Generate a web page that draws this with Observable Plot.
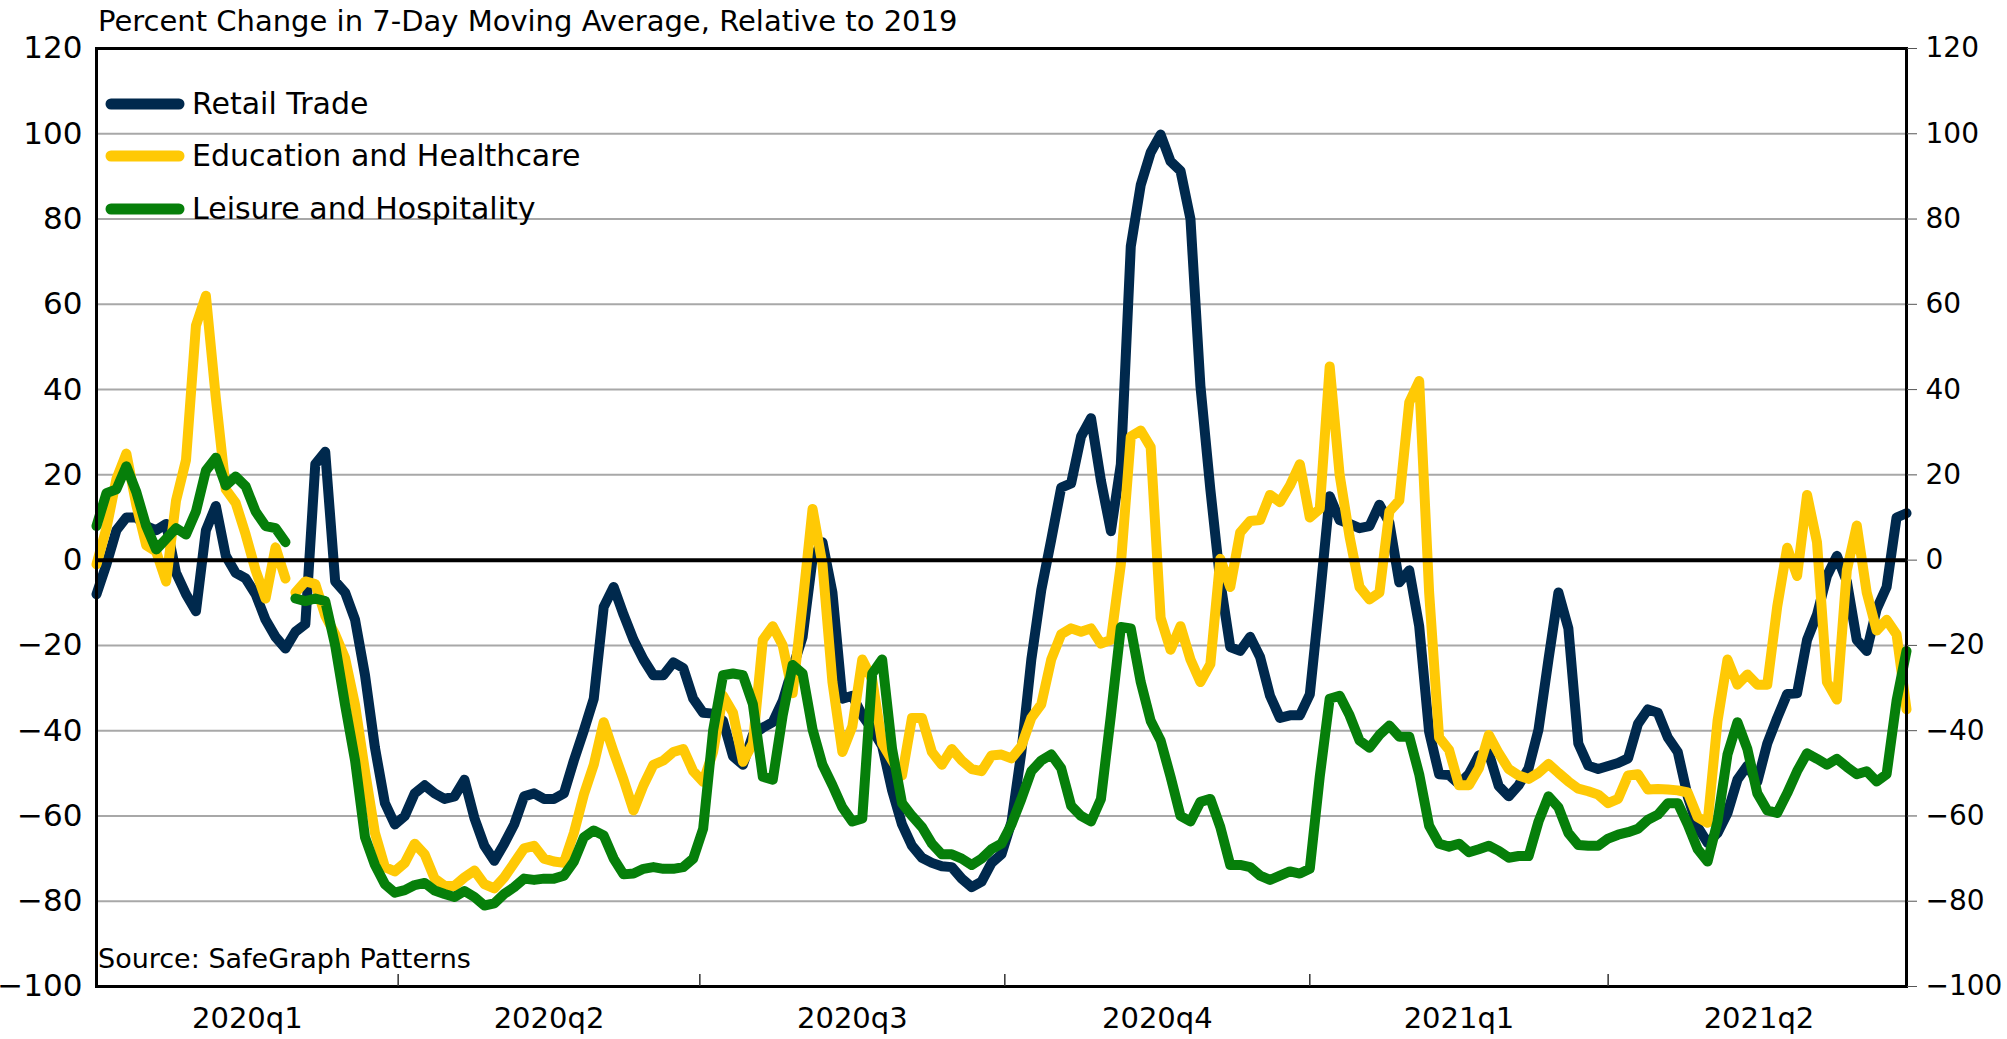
<!DOCTYPE html>
<html>
<head>
<meta charset="utf-8">
<script src="https://cdn.jsdelivr.net/npm/d3@7"></script>
<script src="https://cdn.jsdelivr.net/npm/@observablehq/plot@0.6"></script>
<style>
  html, body { margin: 0; padding: 0; background: #fff; }
  #chart { position: relative; width: 2007px; height: 1039px; }
</style>
</head>
<body>
<div id="chart"></div>
<script>
// ---------- text ----------
const titleText = "Percent Change in 7-Day Moving Average, Relative to 2019";
const sourceText = "Source: SafeGraph Patterns";
const seriesNames = ["Retail Trade", "Education and Healthcare", "Leisure and Hospitality"];
const seriesColors = ["#00294D", "#FFC905", "#067F0A"];

// ---------- x categories (one reading every 3 days) ----------
const startDate = "2020-01-01";
const endDate = "2021-06-30";
const stepDays = 3;
const gapDate = "2020-02-29"; // break in the Education and Leisure lines
const quarterStarts = ["2020-01-01", "2020-04-01", "2020-07-01", "2020-10-01", "2021-01-01", "2021-04-01", "2021-07-01"];
const quarterLabels = ["2020q1", "2020q2", "2020q3", "2020q4", "2021q1", "2021q2"];
const yTicks = [-100, -80, -60, -40, -20, 0, 20, 40, 60, 80, 100, 120];

// ---------- series values (percent change) ----------
const retail = [
  -8, -1, 7, 10, 10, 8, 7, 8.5, -3, -8,
  -12, 7, 12.7, 1, -3, -4.3, -8, -14, -18, -20.7,
  -16.8, -15, 22.5, 25.4, -5, -7.6, -14, -27, -44, -57,
  -62, -60, -54.7, -52.8, -54.7, -56, -55.4, -51.5, -60.5, -67,
  -70.5, -66.5, -62, -55.4, -54.7, -56, -56, -54.7, -47, -40,
  -32.5, -11, -6.3, -12.8, -18.7, -23.3, -27, -27, -24, -25.3,
  -32.5, -35.8, -36, -37.7, -46, -48, -41, -39.3, -38, -33,
  -25.3, -18, 0.3, 4.2, -7.6, -32.5, -31.8, -36.4, -39.7, -43.6,
  -54, -62, -67, -69.8, -71, -71.8, -72, -74.7, -76.7, -75.4,
  -71, -69, -61.5, -45, -23.3, -7, 4.8, 17, 18, 29,
  33.3, 18.6, 6.8, 22.5, 73.6, 88, 95.6, 99.8, 93.5, 91.3,
  80, 40.9, 16.6, -5, -20.4, -21.3, -18, -22.7, -31.8, -37,
  -36.4, -36.4, -31.5, -9, 15, 9.4, 8.5, 7.5, 8, 13,
  8.8, -5.2, -2.4, -15.5, -40.3, -50.2, -50.4, -52.5, -50.2, -45.8,
  -45.3, -53, -55.4, -52.8, -48.8, -39.7, -23.3, -7.6, -16, -43,
  -48.2, -49, -48.3, -47.6, -46.5, -38.4, -35, -35.8, -41.6, -45,
  -55.4, -62.6, -66.3, -64, -59.3, -51.5, -48.2, -52, -43, -37,
  -31.4, -31.2, -18.7, -12.8, -3.7, 1, -5, -18.7, -21.3, -11.5,
  -6.3, 10, 11
];
const education = [
  -1, 7.5, 19, 25, 13, 3.5, 2, -5, 14, 23.5,
  55, 62, 38, 16.6, 13.4, 6, -2.4, -9, 3, -4.3,
  -7.6, -5, -5.6, -13, -17.4, -23, -34, -49.5, -64, -72,
  -73, -71, -66.5, -69, -74.7, -76.4, -76.4, -74.4, -72.8, -76,
  -77, -74.4, -71, -67.6, -67, -70, -70.7, -71, -64, -55,
  -48, -38, -45, -51.5, -58.7, -52.8, -48, -47, -45, -44.3,
  -49.5, -52, -45, -31.8, -35.8, -47.3, -43, -18.7, -15.5, -20,
  -31.2, -10.2, 12, -1, -28.6, -45, -39, -23.3, -28, -43,
  -47, -50.5, -37, -37, -45, -48, -44.3, -47, -49, -49.5,
  -45.8, -45.6, -46.5, -43.6, -37, -33.8, -23.3, -17.4, -16, -16.8,
  -16, -19.6, -18.7, -1, 29, 30.4, 26.5, -13.5, -21, -15.5,
  -23.3, -28.6, -24.4, 0.3, -6.3, 6.5, 9.2, 9.4, 15.3, 13.6,
  17.5, 22.5, 10, 12, 45.4, 20, 5.5, -6.3, -9.2, -7.6,
  11.4, 14, 37, 42, -7.6, -41.6, -44.5, -52.8, -52.8, -48.8,
  -41, -45.3, -49, -50.5, -51.3, -49.9, -47.8, -49.9, -51.9, -53.6,
  -54.2, -55, -57, -56, -50.5, -50.2, -53.8, -53.7, -53.8, -54,
  -54.5, -60.3, -61.6, -37.7, -23.3, -29.2, -26.8, -29.2, -29.2, -10.9,
  2.9, -3.7, 15.3, 4.2, -28.6, -32.7, -2.4, 8.1, -7.6, -16.5,
  -14, -17.4, -35
];
const leisure = [
  8, 15.7, 16.6, 22, 16, 8, 2.5, 5, 7.5, 6,
  11.4, 21, 24, 17.5, 19.6, 17.3, 11.4, 8, 7.5, 4.2,
  -9, -9.6, -9, -9.6, -20, -34, -47, -65, -71.5, -76,
  -78, -77.4, -76.2, -75.7, -77.5, -78.3, -79, -77.6, -79, -81,
  -80.5, -78.3, -76.7, -74.7, -75, -74.7, -74.7, -74, -70.7, -65,
  -63.4, -64.6, -70, -73.7, -73.5, -72.4, -72, -72.4, -72.4, -72,
  -70, -63, -40, -27, -26.6, -27, -33.8, -50.8, -51.5, -36.4,
  -24.6, -26.6, -39.7, -48, -52.8, -58, -61.3, -60.6, -26.6, -23.3,
  -44.3, -57, -60, -62.6, -66.5, -69, -69, -70, -71.5, -70,
  -67.8, -66.5, -62, -56, -49.5, -47, -45.6, -48.8, -57.6, -60,
  -61.3, -56, -36.4, -15.7, -16, -28.6, -37.7, -42.3, -50.8, -60,
  -61.3, -56.7, -56, -62.6, -71.5, -71.5, -72, -74, -75, -74,
  -73, -73.5, -72.4, -50.8, -32.5, -31.8, -36.4, -42.3, -44, -41,
  -38.8, -41.4, -41.4, -50.2, -62.3, -66.5, -67.2, -66.5, -68.5, -67.8,
  -67, -68.2, -69.8, -69.4, -69.4, -61.3, -55.4, -58, -64, -66.8,
  -67, -67, -65.3, -64.4, -63.8, -63, -60.9, -59.7, -57, -57,
  -62, -67.8, -70.7, -61.3, -45.6, -38, -44.3, -54.7, -58.7, -59.3,
  -54.7, -49.5, -45.3, -46.6, -48, -46.6, -48.5, -50.2, -49.5, -51.9,
  -50.2, -33, -21.3
];

// ---------- build tables ----------
const parse = d3.utcParse("%Y-%m-%d");
const t0 = parse(startDate);
const dates = retail.map((_, i) => d3.utcDay.offset(t0, i * stepDays));
function rows(name, values, withGap) {
  const out = values.map((v, i) => ({date: dates[i], value: v, series: name}));
  if (withGap) {
    const g = parse(gapDate);
    const k = out.findIndex(d => d.date > g);
    out.splice(k, 0, {date: g, value: NaN, series: name});
  }
  return out;
}
const retailRows = rows(seriesNames[0], retail, false);
const educationRows = rows(seriesNames[1], education, true);
const leisureRows = rows(seriesNames[2], leisure, true);

const qDates = quarterStarts.map(parse);
const quarterTicks = qDates.slice(1, -1);
const quarterMids = quarterLabels.map((_, i) => new Date((+qDates[i] + +qDates[i + 1]) / 2));
const labelAt = new Map(quarterMids.map((d, i) => [+d, quarterLabels[i]]));

const font = "DejaVu Sans";
const lineStyle = {x: "date", y: "value", strokeWidth: 10, strokeLinejoin: "round", strokeLinecap: "round"};

const plot = Plot.plot({
  width: 2007,
  height: 1039,
  marginLeft: 96,
  marginRight: 101,
  marginTop: 48,
  marginBottom: 53,
  style: {fontFamily: font, background: "#fff", color: "#000", overflow: "visible"},
  x: {type: "utc", domain: [parse(startDate), parse(endDate)], label: null},
  y: {domain: [-100, 120], label: null},
  marks: [
    Plot.gridY(yTicks.filter(t => t !== 0 && t !== -100 && t !== 120), {stroke: "#a8a8a8", strokeOpacity: 1, strokeWidth: 2}),
    Plot.line(retailRows, {...lineStyle, stroke: seriesColors[0]}),
    Plot.line(educationRows, {...lineStyle, stroke: seriesColors[1]}),
    Plot.line(leisureRows, {...lineStyle, stroke: seriesColors[2]}),
    Plot.ruleY([0], {stroke: "#000", strokeWidth: 4}),
    Plot.frame({stroke: "#000", strokeWidth: 3}),
    Plot.axisY(yTicks, {anchor: "left", label: null, tickSize: 0, tickPadding: 14, fontSize: 31, fill: "#000"}),
    Plot.axisY(yTicks, {anchor: "right", label: null, tickSize: 10, tickPadding: 9, fontSize: 28, stroke: "#555", fill: "#000"}),
    Plot.tickX(quarterTicks, {x: d => d, stroke: "#333", strokeWidth: 1.5, insetTop: 926}),
    Plot.axisX(quarterMids, {anchor: "bottom", label: null, tickSize: 0, tickPadding: 21, fontSize: 29, fill: "#000", tickFormat: d => labelAt.get(+d)})
  ]
});

document.getElementById("chart").appendChild(plot);

// ---------- title, legend, source (text inside the svg) ----------
const svg = d3.select(plot);
svg.append("text")
  .attr("x", 98).attr("y", 31)
  .attr("font-family", font).attr("font-size", 29).attr("text-anchor", "start").attr("fill", "#000")
  .text(titleText);

const legendRowsY = [104, 156, 209];
const legend = svg.append("g");
seriesNames.forEach((name, i) => {
  legend.append("line")
    .attr("x1", 111).attr("x2", 179).attr("y1", legendRowsY[i]).attr("y2", legendRowsY[i])
    .attr("stroke", seriesColors[i]).attr("stroke-width", 11).attr("stroke-linecap", "round");
  legend.append("text")
    .attr("x", 192).attr("y", legendRowsY[i] + 10)
    .attr("font-family", font).attr("font-size", 30).attr("text-anchor", "start").attr("fill", "#000")
    .text(name);
});

svg.append("text")
  .attr("x", 98).attr("y", 968)
  .attr("font-family", font).attr("font-size", 27).attr("text-anchor", "start").attr("fill", "#000")
  .text(sourceText);
</script>
</body>
</html>
